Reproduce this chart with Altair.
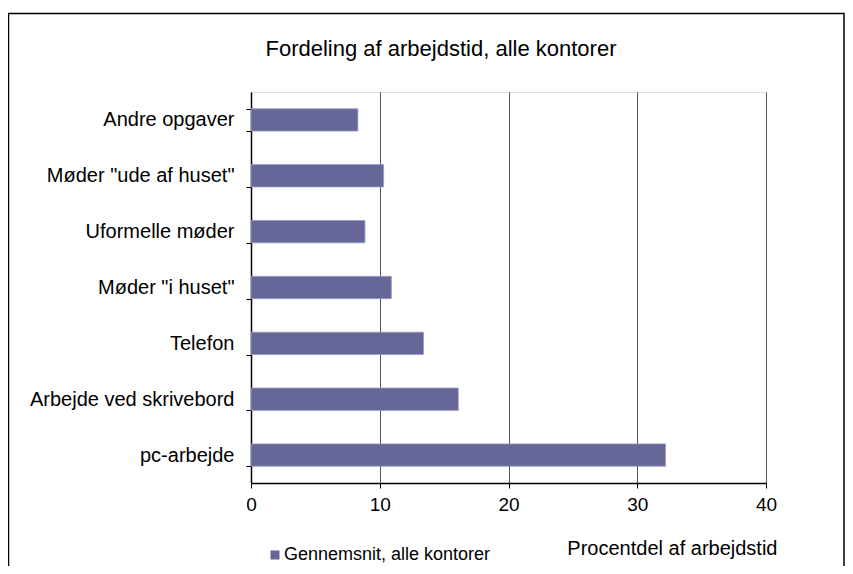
import altair as alt
import pandas as pd

categories = ["Andre opgaver", "Møder \"ude af huset\"", "Uformelle møder", "Møder \"i huset\"",
              "Telefon", "Arbejde ved skrivebord", "pc-arbejde"]
values = [8.3, 10.3, 8.85, 10.9, 13.4, 16.1, 32.2]
series_name = "Gennemsnit, alle kontorer"
title_text = "Fordeling af arbejdstid, alle kontorer"
x_title = "Procentdel af arbejdstid"
x_ticks = [0, 10, 20, 30, 40]

df = pd.DataFrame({"cat": categories, "val": values, "series": [series_name] * len(categories)})

FONT = "Liberation Sans"

bars = alt.Chart(df).mark_bar(color="#666699", stroke="#9a9ac4", strokeWidth=0.8).encode(
    x=alt.X("val:Q",
            scale=alt.Scale(domain=[0, 40], nice=False),
            axis=alt.Axis(values=x_ticks, title=x_title, grid=True, gridColor="#555555",
                          gridWidth=1, domainColor="black", domainWidth=1.5, tickColor="black",
                          tickSize=5, labelFontSize=19, labelPadding=7, labelColor="black",
                          labelFlush=False,
                          labelFont=FONT, titleFont=FONT, titleFontSize=20, titleFontWeight="normal",
                          titleColor="black", titleAlign="right", titleAnchor="end",
                          titleX=526, titleY=71, titleBaseline="alphabetic")),
    y=alt.Y("cat:N", sort=categories,
            scale=alt.Scale(paddingInner=0.6, paddingOuter=0.3),
            axis=alt.Axis(title=None, tickBand="extent", domainColor="black", domainWidth=1.5,
                          tickColor="black", tickSize=5, labelFontSize=20, labelPadding=12,
                          labelColor="black", labelFont=FONT, labelLimit=300)),
    color=alt.Color("series:N", scale=alt.Scale(range=["#666699"]),
                    legend=alt.Legend(title=None, orient="none", legendX=15, legendY=454,
                                      symbolType="square", symbolSize=81, symbolStrokeWidth=0,
                                      labelFontSize=18, labelFont=FONT, labelColor="black",
                                      labelOffset=0, labelLimit=400)),
)

title = alt.Chart(pd.DataFrame({"t": [title_text]})).mark_text(
    fontSize=22, font=FONT, color="black", align="center", baseline="middle"
).encode(x=alt.value(190), y=alt.value(-43), text="t:N")

frame = alt.Chart(pd.DataFrame({"a": [0]})).mark_rect(
    fill=None, stroke="black", strokeWidth=1.5
).encode(x=alt.value(-242.5), x2=alt.value(593), y=alt.value(-78.5), y2=alt.value(600))

chart = alt.layer(frame, bars, title).properties(
    width=515, height=391,
    autosize=alt.AutoSizeParams(type="none"),
    padding={"left": 243, "top": 84, "right": 79, "bottom": 83},
).configure_view(stroke="black", strokeWidth=1.5).configure(background="white")

chart.save("out.html", embed_options={"renderer": "svg", "actions": False})
